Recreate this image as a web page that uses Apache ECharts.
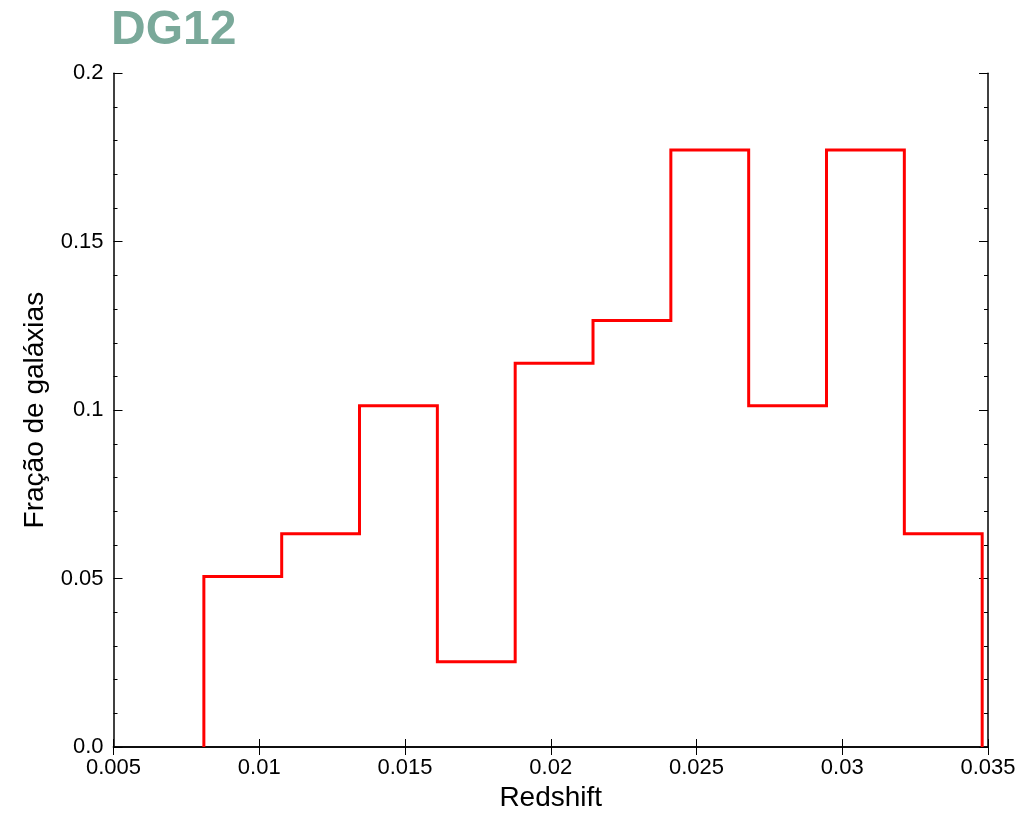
<!DOCTYPE html>
<html>
<head>
<meta charset="utf-8">
<script src="https://cdn.jsdelivr.net/npm/echarts@6/dist/echarts.min.js"></script>
<style>html,body{margin:0;padding:0;background:#fff;overflow:hidden}#c{width:1035px;height:817px}</style>
</head>
<body>
<div id="c"></div>
<script>
// Histogram bin edges (redshift) and fraction of galaxies per bin
var binEdges = [0.0081, 0.01077, 0.01344, 0.01611, 0.01878, 0.02145, 0.02412, 0.02679, 0.02946, 0.03213, 0.0348];
var binValues = [0.0506, 0.0633, 0.1013, 0.0253, 0.1139, 0.1266, 0.1772, 0.1013, 0.1772, 0.0633];
var xTicks = [0.005, 0.01, 0.015, 0.02, 0.025, 0.03, 0.035];
var yTicks = ['0.0', '0.05', '0.1', '0.15', '0.2'];
var titleText = 'DG12';
var xName = 'Redshift';
var yName = 'Fração de galáxias';

var pts = [[binEdges[0], 0]];
for (var i = 0; i < binValues.length; i++) {
  pts.push([binEdges[i], binValues[i]]);
  pts.push([binEdges[i + 1], binValues[i]]);
}
pts.push([binEdges[binEdges.length - 1], 0]);

var font = '"Liberation Sans", Arial, sans-serif';
var axisLine = {show: true, lineStyle: {color: '#000', width: 1.5}};
var baseX = {
  type: 'value', min: 0.005, max: 0.035, interval: 0.005,
  axisLine: axisLine,
  axisTick: {inside: true, length: 8, lineStyle: {color: '#000', width: 1}},
  splitLine: {show: false}
};
var baseY = {
  type: 'value', min: 0, max: 0.2, interval: 0.05,
  axisLine: axisLine,
  axisTick: {inside: true, length: 9, lineStyle: {color: '#000', width: 1}},
  minorTick: {show: true, splitNumber: 5, length: 4, lineStyle: {color: '#000', width: 1}},
  splitLine: {show: false}, minorSplitLine: {show: false}
};

var chart = echarts.init(document.getElementById('c'), null, {renderer: 'canvas', width: 1035, height: 817});
chart.setOption({
  backgroundColor: '#fff',
  animation: false,
  title: {
    text: titleText, left: 106, top: 2,
    textStyle: {fontFamily: font, fontWeight: 'bold', fontSize: 48, color: '#7aa99a'}
  },
  grid: {left: 113.5, right: 47, top: 73.3, bottom: 65.5, containLabel: false},
  xAxis: [
    Object.assign({}, baseX, {
      position: 'bottom',
      name: xName, nameLocation: 'middle', nameGap: 37,
      nameTextStyle: {fontFamily: font, fontSize: 28, color: '#000'},
      axisLabel: {show: true, margin: 10, fontFamily: font, fontSize: 22, color: '#000',
        formatter: function (v) { return String(+v.toFixed(4)); }}
    }),
    Object.assign({}, baseX, {position: 'top', axisLabel: {show: false}})
  ],
  yAxis: [
    Object.assign({}, baseY, {
      position: 'left',
      name: yName, nameLocation: 'middle', nameGap: 64,
      nameTextStyle: {fontFamily: font, fontSize: 28, color: '#000'},
      axisLabel: {show: true, margin: 10, fontFamily: font, fontSize: 22, color: '#000',
        formatter: function (v) { return yTicks[Math.round(v / 0.05)]; }}
    }),
    Object.assign({}, baseY, {position: 'right', axisLabel: {show: false}})
  ],
  series: [{
    type: 'line', data: pts, showSymbol: false, symbol: 'none',
    xAxisIndex: 0, yAxisIndex: 0,
    lineStyle: {color: '#ff0000', width: 3, join: 'miter'},
    z: 1
  }]
});
</script>
</body>
</html>
